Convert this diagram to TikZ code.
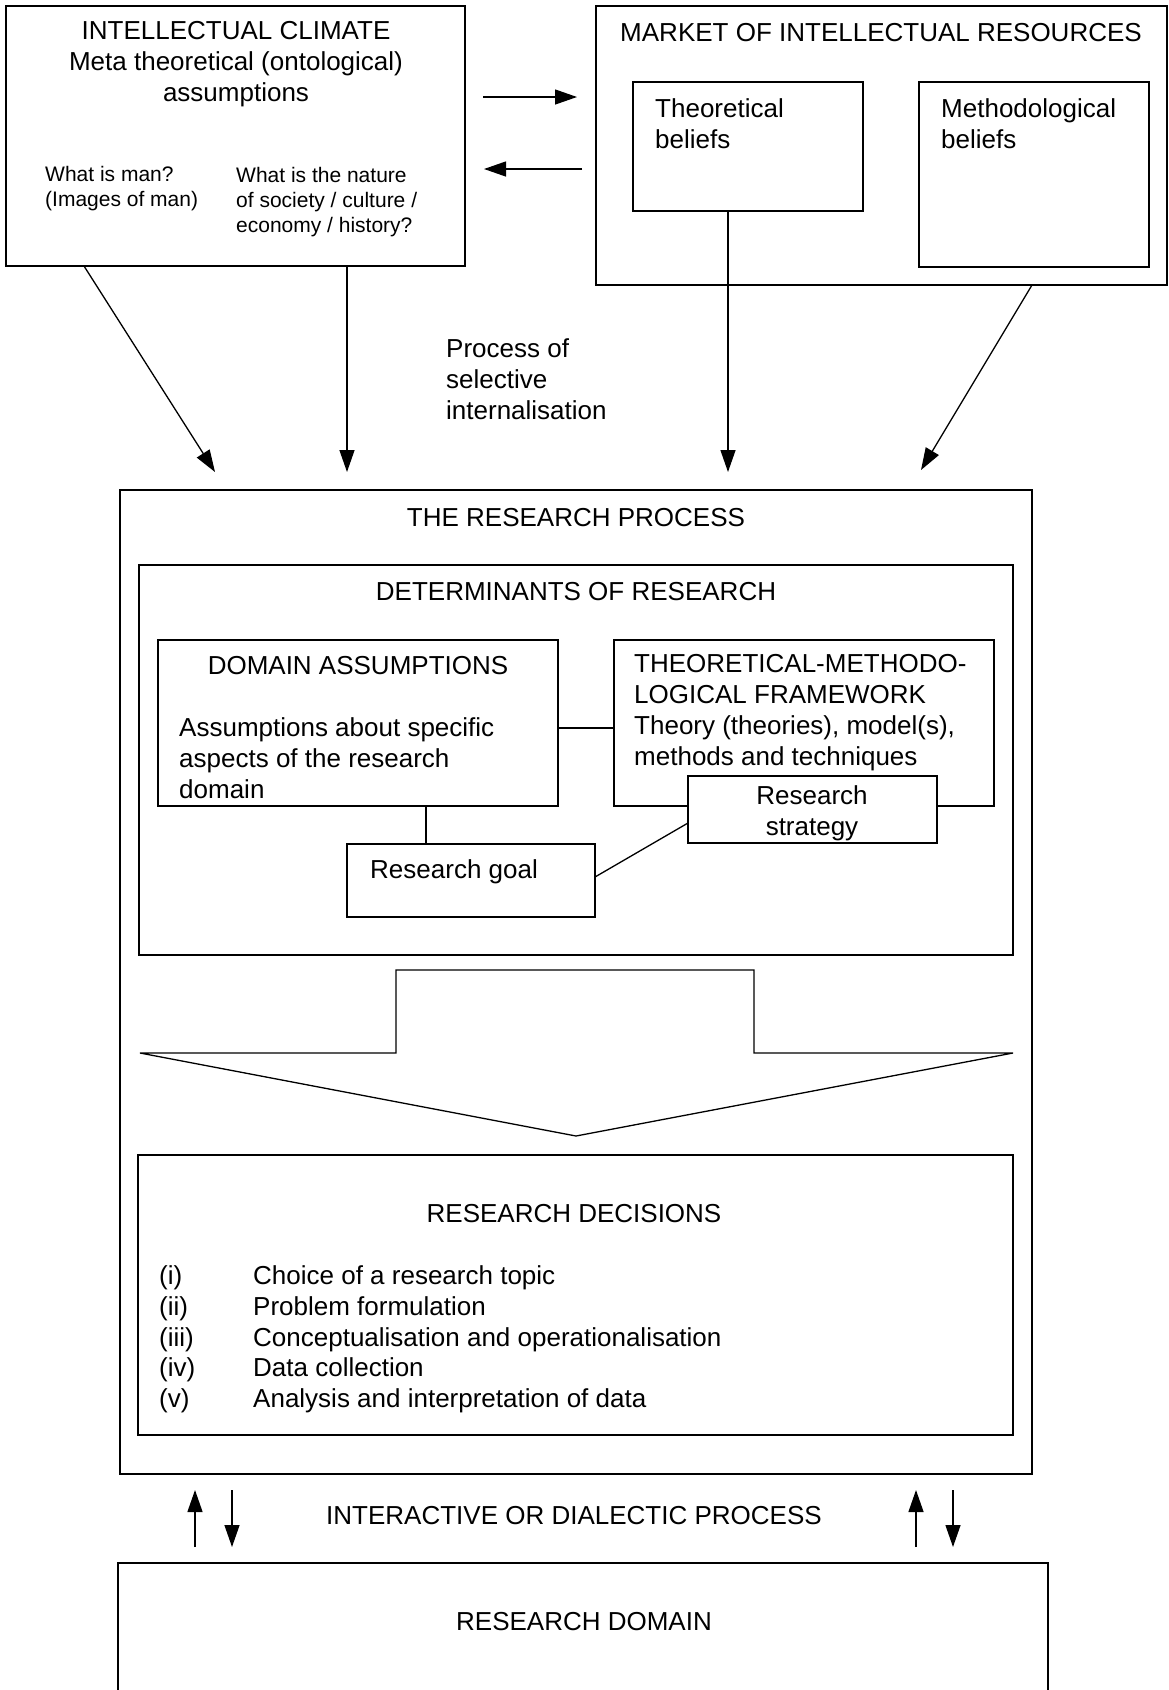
\documentclass[tikz,border=0pt]{standalone}
\usepackage{fontspec}
\setmainfont{Liberation Sans}
\usetikzlibrary{arrows.meta,calc}
\begin{document}
\begin{tikzpicture}[x=1pt,y=-1pt,
  box/.style={draw,line width=1.4pt,inner sep=0pt,outer sep=0pt,anchor=north west},
  txt/.style={inner sep=0pt,font=\fontsize{26}{31}\selectfont},
  small/.style={inner sep=0pt,font=\fontsize{21}{25}\selectfont},
  arr/.style={line width=1.3pt,-{Triangle[length=22pt,width=15pt]}},
  conn/.style={line width=1.3pt}]
\useasboundingbox[fill=white] (0,0) rectangle (1169,1690);

% top boxes
\node[box,minimum width=459pt,minimum height=260pt] (ic) at (6,6) {};
\node[txt,align=center] (ict) at (236,64) {INTELLECTUAL CLIMATE\\Meta theoretical (ontological)\\assumptions};
\node[small,align=left,anchor=west] (man) at (45,189) {What is man?\\(Images of man)};
\node[small,align=left,anchor=west] (nat) at (236,202) {What is the nature\\of society / culture /\\economy / history?};

\node[box,minimum width=571pt,minimum height=279pt] (mkt) at (596,6) {};
\node[txt] (mktt) at (881,33) {MARKET OF INTELLECTUAL RESOURCES};
\node[box,minimum width=230pt,minimum height=129pt] (tb) at (633,82) {};
\node[box,minimum width=230pt,minimum height=185pt] (mb) at (919,82) {};
\node[txt,align=left,anchor=west] (tbt) at (655,124) {Theoretical\\beliefs};
\node[txt,align=left,anchor=west] (mbt) at (941,124) {Methodological\\beliefs};

% horizontal arrows
\coordinate (h1s) at (483,97);
\coordinate (h1e) at (577,97);
\coordinate (h2s) at (582,169);
\coordinate (h2e) at (484,169);
\draw[arr] (h1s) -- (h1e);
\draw[arr] (h2s) -- (h2e);

\node[txt,align=left,anchor=west] (proc) at (446,379) {Process of\\selective\\internalisation};

% downward arrows
\coordinate (e1) at (215,472);
\coordinate (e2) at (347,472);
\coordinate (e3) at (728,472);
\coordinate (e4) at (921,470);
\draw[arr] ($(ic.south west)+(78,0)$) -- (e1);
\draw[arr] ($(ic.south west)+(341,0)$) -- (e2);
\draw[arr] ($(tb.south west)+(95,0)$) -- (e3);
\draw[arr] ($(mkt.south west)+(436,0)$) -- (e4);

% research process
\node[box,minimum width=912pt,minimum height=984pt] (rp) at (120,490) {};
\node[txt] (rpt) at (576,518) {THE RESEARCH PROCESS};
\node[box,minimum width=874pt,minimum height=390pt] (det) at (139,565) {};
\node[txt] (dett) at (576,592) {DETERMINANTS OF RESEARCH};

\node[box,minimum width=400pt,minimum height=166pt] (da) at (158,640) {};
\node[txt] (dat) at (358,666) {DOMAIN ASSUMPTIONS};
\node[txt,align=left,anchor=west] (dab) at (179,758) {Assumptions about specific\\aspects of the research\\domain};

\node[box,minimum width=380pt,minimum height=166pt] (tm) at (614,640) {};
\node[txt,align=left,anchor=west] (tmt) at (634,713) {THEORETICAL-METHODO-\\LOGICAL FRAMEWORK\\Theory (theories), model(s),\\methods and techniques};

\node[box,fill=white,minimum width=249pt,minimum height=67pt] (rs) at (688,776) {};
\node[txt,align=center] (rst) at (812,813) {Research\\strategy};

\node[box,minimum width=248pt,minimum height=73pt] (rg) at (347,844) {};
\node[txt,anchor=west] (rgt) at (370,872) {Research goal};

\draw[conn] ($(da.north east)+(0,88)$) -- ($(tm.north west)+(0,88)$);
\draw[conn] ($(da.south west)+(268,0)$) -- ($(rg.north west)+(79,0)$);
\draw[conn] ($(rg.north east)+(0,33)$) -- ($(rs.north west)+(0,47)$);

% big arrow
\draw[conn,line join=miter] (396,1053) -- (396,970) -- (754,970) -- (754,1053) -- (1013,1053) -- (576,1136) -- (140,1053) -- cycle;

% research decisions
\node[box,minimum width=875pt,minimum height=280pt] (rd) at (138,1155) {};
\node[txt] (rdt) at (574,1214) {RESEARCH DECISIONS};
\node[txt,anchor=base west] (n1) at (159,1284) {(i)};
\node[txt,anchor=base west] (n2) at (159,1315) {(ii)};
\node[txt,anchor=base west] (n3) at (159,1346) {(iii)};
\node[txt,anchor=base west] (n4) at (159,1376) {(iv)};
\node[txt,anchor=base west] (n5) at (159,1407) {(v)};
\node[txt,anchor=base west] (t1) at (253,1284) {Choice of a research topic};
\node[txt,anchor=base west] (t2) at (253,1315) {Problem formulation};
\node[txt,anchor=base west] (t3) at (253,1346) {Conceptualisation and operationalisation};
\node[txt,anchor=base west] (t4) at (253,1376) {Data collection};
\node[txt,anchor=base west] (t5) at (253,1407) {Analysis and interpretation of data};

% interactive process
\node[txt] (it) at (574,1516) {INTERACTIVE OR DIALECTIC PROCESS};
\coordinate (u1b) at (195,1547);
\coordinate (u1t) at (195,1490);
\coordinate (d1t) at (232,1490);
\coordinate (d1b) at (232,1547);
\coordinate (u2b) at (916,1547);
\coordinate (u2t) at (916,1490);
\coordinate (d2t) at (953,1490);
\coordinate (d2b) at (953,1547);
\draw[arr] (u1b) -- (u1t);
\draw[arr] (d1t) -- (d1b);
\draw[arr] (u2b) -- (u2t);
\draw[arr] (d2t) -- (d2b);

% research domain (cut off at bottom)
\draw[line width=1.4pt] (118,1690) -- (118,1563) -- (1048,1563) -- (1048,1690);
\node[txt] (rdm) at (584,1622) {RESEARCH DOMAIN};
\end{tikzpicture}
\end{document}
